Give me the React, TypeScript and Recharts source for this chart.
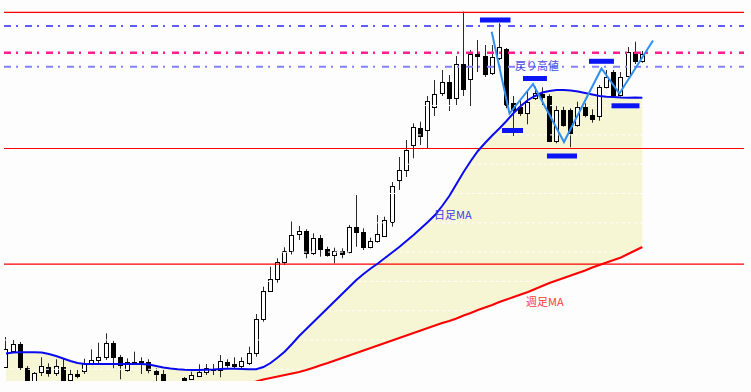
import React from 'react';
import {
  ComposedChart,
  Bar,
  Line,
  Area,
  XAxis,
  YAxis,
  ReferenceLine,
  ReferenceDot,
} from 'recharts';

// ---- candle data (index = session, values in chart price units) ----
const opens = [
  14.3, 30.3, 37, 13, -5, 9.3, 13.7, 7.7, 14.3, 1, 7, 10, 17.7, 21, 24.3, 38.3, 23.7, 11, 18.3, 20.3,
  19.3, 10, 7, -3, -10, 3, 1.7, 5, 9.3, 12, 11, 18.7, 16.7, 15, 18.3, 27.7, 61.7, 90, 101.7, 119.3,
  130, 147, 150, 128.3, 143.3, 132, 126, 130.3, 129.3, 153.7, 149.3, 134.3, 140, 145, 159.3, 201, 211, 235.7, 252.7, 251,
  274.5, 287.7, 299.3, 283.3, 316.7, 302, 327.5, 325, 307.7, 322.7, 332, 278, 274.3, 267.7, 282.7, 286.7, 285.3, 240.3, 271, 271,
  256, 274.3, 266, 265, 294.3, 309.3, 286, 305, 329.3, 320.5,
];
const highs = [
  44, 41, 39, 15, 9, 23.7, 17.7, 21.7, 22.7, 11.7, 11.7, 22.3, 31.7, 38.3, 47.7, 40.3, 26, 22.7, 29.3, 23.7,
  21.7, 12.7, 11, -1, -2, 4, 9.3, 16.7, 17, 17, 26, 21.7, 23.7, 23.7, 34.3, 67, 94.3, 114.3, 122.7, 133.7,
  159.5, 155, 151.7, 147.7, 146, 134.3, 133.3, 132.7, 156, 186, 152.7, 143.3, 166, 164.3, 199, 224, 241, 257.7, 259.3, 285,
  301, 311, 306, 325, 369.3, 331, 341, 336, 336, 357.7, 333, 285, 280, 289.3, 294.3, 293.7, 286.7, 276, 274.3, 272.7,
  279.3, 277.7, 271.7, 296, 311, 311, 309, 334, 339.3, 330,
];
const lows = [
  13, 28.3, 11, -9, -7, 5, 4.3, 5, -6, -1, 2.7, 7, 16, 17.7, 21, 12.7, 1.7, 9.3, 16, 7,
  7.7, 0, -5, -12, -13, -2, 1, 4.3, 6, 6, 3.7, 13.3, 11.7, 11.7, 16, 24.3, 59.3, 89.3, 98.3, 116,
  126.5, 141, 122.7, 126, 124.3, 124.3, 117.7, 122.7, 127.7, 134.3, 131, 132.7, 138.3, 144.3, 154.3, 191, 204, 222.7, 236, 233,
  265, 285, 270, 276, 285, 275, 309, 304, 306, 321, 272.7, 245, 265, 256.7, 281, 276, 239.3, 237.7, 254.3, 233.7,
  254.3, 263.7, 258.3, 260.3, 292.7, 284.3, 284.5, 304.3, 317, 318.3,
];
const closes = [
  31.7, 37, 14.3, -4, 8, 15, 7.7, 15, -2, 7, 5, 17.7, 21, 23.7, 37.7, 24.3, 16, 19.3, 19.3, 19,
  11, 7, -2, -8, -4, 0, 6, 9.3, 12.7, 12.3, 20.3, 16, 15.3, 20, 27.7, 62, 90, 101.7, 119.3, 130.3,
  146, 150, 128.3, 143.3, 132, 126, 130.3, 127.3, 154.3, 148.7, 134.3, 140, 146.7, 161, 195, 211, 231, 253.5, 245.3, 280,
  287.5, 299.3, 283.3, 316.7, 292, 326.7, 325.5, 306.7, 324, 334.3, 276, 271, 267.7, 279.3, 287.7, 284.3, 240.3, 271, 256, 247.7,
  274.3, 266, 261.7, 293.7, 304.3, 286, 304.3, 329.3, 320.3, 327,
];

// daily moving average (日足MA)
const dailyMA = [
  27.5, 28.5, 28.7, 28.7, 28.7, 28.5, 27, 25, 22.5, 20, 18, 17, 17, 17, 17, 17, 17, 17, 17, 17,
  16.5, 15, 13.5, 12.5, 11.7, 11.2, 11, 11, 11.2, 11.5, 12, 12.3, 12.3, 12, 11.7, 11.7, 14, 18, 23.5, 29.5,
  37, 45, 52, 59, 66, 73, 80, 87, 94, 101, 107, 112.5, 117.5, 123, 128.5, 134, 140, 146, 152.5, 159,
  166, 175, 185, 197, 209, 220, 230, 238, 245.5, 252.5, 260, 268, 275, 281, 285, 288.5, 290, 291, 291, 290.5,
  289.5, 288, 286.5, 285, 284.3, 284, 283.5, 283.3, 283.5, 283.3,
];

// weekly moving average (週足MA); below the visible range early on
const weeklyMA: (number | null)[] = [
  null, null, null, null, null, null, null, null, null, null, null, null, null, null, null, null, null, null, null, null,
  null, null, null, null, null, null, null, null, null, null, null, null, null, null, -2, -0.5, 1.5, 3, 4.5, 6,
  7.5, 9, 11, 13.3, 15.7, 18, 20.5, 23, 25.5, 28, 30.5, 33, 35.5, 38, 40.5, 43, 45.5, 48, 50.5, 53,
  55.5, 58, 60, 62.5, 65.5, 68, 71, 73.5, 76, 79, 81.5, 84, 86.5, 89, 92, 95, 98, 100.5, 103, 105.5,
  108, 110.5, 113.5, 116, 118.5, 121, 123.5, 127, 130.5, 134,
];

// zigzag (wave) line: session position and price
const zigX = [67.93, 70.42, 73.71, 78.04, 83.29, 85.8, 90.49];
const zigV = [349.3, 267.5, 297, 239, 312.5, 287.5, 340.5];

// swing highs/lows markers: start session, end session, price
const markStart = [66.29, 69.37, 72.31, 75.66, 81.54, 84.69];
const markEnd = [70.56, 72.31, 75.66, 79.86, 85.03, 88.6];
const markLevel = [361, 250.5, 302.5, 225, 319.7, 275.2];

// horizontal price levels
const redLevels = [368.7, 232.5, 116.8];
const blueDashLevel = 355;
const pinkDashLevel = 328.3;
const lightBlueDashLevel = 314.3;
const gridLevels = [11.7, 41, 70.3, 99.6, 128.9, 158.2, 187.5, 216.8, 246.1, 275.4];

// text labels
const labelText = ['戻り高値', '日足MA', '週足MA'];
const labelX = [71.19, 59.86, 72.73];
const labelV = [315, 166, 79];
const labelColor = ['#4b4be0', '#3c3ce6', '#ff3a3a'];

const data = opens.map((o, i) => {
  const wk = weeklyMA[i];
  return {
    i,
    o,
    h: highs[i],
    l: lows[i],
    c: closes[i],
    ma: dailyMA[i],
    wk,
    band: [wk == null ? 0 : Math.max(wk, 0), dailyMA[i]],
    range: [lows[i], highs[i]],
  };
});

const zigData = zigX.map((x, k) => ({ i: x, v: zigV[k] }));

const Candle = (props: any) => {
  const { x, y, width, height, payload } = props;
  if (!payload || x == null || y == null) return null;
  const { o, h, l, c } = payload;
  const yTop = Math.min(y, y + height);
  const hh = Math.abs(height);
  const k = h - l > 0 ? hh / (h - l) : 0;
  const py = (v: number) => yTop + (h - v) * k;
  const cx = Math.floor(x + width / 2) + 0.5;
  const up = c >= o;
  let top = Math.round(py(Math.max(o, c))) + 0.5;
  let bot = Math.round(py(Math.min(o, c))) + 0.5;
  if (bot - top < 1) bot = top + 1;
  return (
    <g>
      <line x1={cx} x2={cx} y1={py(h)} y2={py(l)} stroke="#2a2a2a" strokeWidth={1} />
      <rect
        x={cx - 2}
        y={top}
        width={4}
        height={bot - top}
        fill={up ? '#ffffff' : '#000000'}
        stroke="#000000"
        strokeWidth={1}
      />
    </g>
  );
};

export default function App() {
  return (
    <div
      style={{
        position: 'absolute',
        left: 0,
        top: 0,
        width: 751,
        height: 392,
        background: '#fdfdfd',
      }}
    >
      <ComposedChart
        width={751}
        height={392}
        data={data}
        margin={{ top: 0, right: 7, bottom: 11, left: 4 }}
      >
        <XAxis type="number" dataKey="i" domain={[-0.28, 103.22]} hide allowDataOverflow />
        <YAxis type="number" domain={[0, 381]} hide allowDataOverflow />
        <Area
          dataKey="band"
          stroke="none"
          fill="#f7f6d4"
          fillOpacity={1}
          isAnimationActive={false}
          type="linear"
        />
        {gridLevels.map((g, k) => (
          <ReferenceLine key={'g' + k} y={g} stroke="#ffffff" strokeDasharray="3 3" strokeWidth={1} />
        ))}
        {redLevels.map((r, k) => (
          <ReferenceLine key={'r' + k} y={r} stroke="#ff0000" strokeWidth={1.2} />
        ))}
        <ReferenceLine y={blueDashLevel} stroke="#2a2aff" strokeWidth={1.5} strokeDasharray="7 5 2 7" />
        <ReferenceLine y={pinkDashLevel} stroke="#ff1f8f" strokeWidth={2.5} strokeDasharray="7 5 2 7" />
        <ReferenceLine y={lightBlueDashLevel} stroke="#8282ff" strokeWidth={2} strokeDasharray="7 5 2 7" />
        <Line
          dataKey="wk"
          stroke="#ff0000"
          strokeWidth={2}
          dot={false}
          isAnimationActive={false}
          type="linear"
        />
        <Line
          dataKey="ma"
          stroke="#0a0aee"
          strokeWidth={2}
          dot={false}
          isAnimationActive={false}
          type="linear"
        />
        <Bar dataKey="range" barSize={5} shape={<Candle />} isAnimationActive={false} />
        <Line
          data={zigData}
          dataKey="v"
          stroke="#2f8ff0"
          strokeWidth={2}
          dot={false}
          isAnimationActive={false}
          type="linear"
        />
        {markLevel.map((m, k) => (
          <ReferenceLine
            key={'m' + k}
            segment={[
              { x: markStart[k], y: m },
              { x: markEnd[k], y: m },
            ]}
            stroke="#0a14f5"
            strokeWidth={5}
          />
        ))}
        {labelText.map((t, k) => (
          <ReferenceDot
            key={'t' + k}
            x={labelX[k]}
            y={labelV[k]}
            r={0}
            fill="none"
            stroke="none"
            label={{
              value: t,
              position: 'right',
              offset: 0,
              fill: labelColor[k],
              fontSize: 11,
              fontFamily: 'Noto Sans CJK JP',
            }}
          />
        ))}
      </ComposedChart>
    </div>
  );
}
